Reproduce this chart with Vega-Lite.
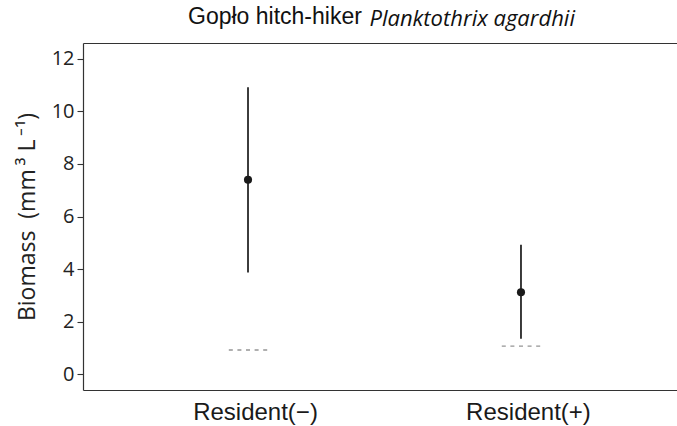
{
  "$schema": "https://vega.github.io/schema/vega-lite/v6.json",
  "autosize": {"type": "none"},
  "width": 594,
  "height": 347,
  "padding": {"left": 83, "top": 43, "right": 0, "bottom": 36},
  "background": "white",
  "config": {"view": {"stroke": null}, "font": "Liberation Sans"},
  "title": {
    "text": "Gopło hitch-hiker",
    "anchor": "start",
    "frame": "group",
    "dx": 105,
    "dy": 44,
    "font": "Liberation Sans",
    "fontSize": 23,
    "fontWeight": "normal",
    "color": "#111111",
    "baseline": "alphabetic"
  },
  "data": {
    "values": [
      {"group": "Resident(−)", "mean": 7.4, "lower": 3.87, "upper": 10.92, "reference": 0.92},
      {"group": "Resident(+)", "mean": 3.12, "lower": 1.35, "upper": 4.93, "reference": 1.07}
    ]
  },
  "layer": [
    {
      "mark": {"type": "tick", "filled": false, "stroke": "#666666", "strokeWidth": 1.4, "size": 43, "thickness": 0, "strokeDash": [4, 4.6], "strokeDashOffset": 6.3},
      "encoding": {
        "x": {"field": "group", "type": "nominal", "sort": null, "scale": {"type": "point", "padding": 0.588, "align": 0.514}, "axis": null},
        "y": {"field": "reference", "type": "quantitative", "scale": {"domain": [-0.6, 12.6], "nice": false, "zero": false}, "title": "Biomass\u00a0\u00a0(mm\u2009³\u00a0L\u2009⁻¹)"}
      }
    },
    {
      "mark": {"type": "rule", "color": "#1a1a1a", "strokeWidth": 1.7},
      "encoding": {
        "x": {"field": "group", "type": "nominal", "sort": null, "scale": {"type": "point", "padding": 0.588, "align": 0.514},
          "axis": {"orient": "bottom", "title": null, "ticks": false, "domain": true, "domainColor": "#333333", "domainWidth": 1.2, "labelFont": "Liberation Sans", "labelFontSize": 24, "labelColor": "#1a1a1a", "labelPadding": 10, "labelOffset": 7, "labelAngle": 0, "grid": false}},
        "y": {"field": "lower", "type": "quantitative", "scale": {"domain": [-0.6, 12.6], "nice": false, "zero": false}, "title": "Biomass\u00a0\u00a0(mm\u2009³\u00a0L\u2009⁻¹)",
          "axis": {"values": [0, 2, 4, 6, 8, 10, 12], "grid": false, "domainColor": "#333333", "domainWidth": 1.2, "tickColor": "#333333", "tickSize": 6, "tickWidth": 1.1, "labelFont": "Open Sans", "labelFontSize": 20, "labelColor": "#222222", "labelPadding": 3, "titleFont": "Open Sans", "titleFontSize": 23, "titleFontWeight": "normal", "titleColor": "#222222", "titlePadding": 12}},
        "y2": {"field": "upper"}
      }
    },
    {
      "mark": {"type": "point", "filled": true, "size": 66, "color": "#1a1a1a", "opacity": 1},
      "encoding": {
        "x": {"field": "group", "type": "nominal", "sort": null, "scale": {"type": "point", "padding": 0.588, "align": 0.514},
          "axis": {"orient": "top", "labels": false, "ticks": false, "domain": true, "domainColor": "#333333", "domainWidth": 1.2, "grid": false,
            "title": "Planktothrix agardhii", "titleFont": "Open Sans", "titleFontStyle": "italic", "titleFontWeight": "normal", "titleFontSize": 22, "titleColor": "#111111", "titleX": 286, "titleY": -18, "titleAlign": "left", "titleBaseline": "alphabetic", "titleAngle": 0}},
        "y": {"field": "mean", "type": "quantitative", "scale": {"domain": [-0.6, 12.6], "nice": false, "zero": false}, "title": "Biomass\u00a0\u00a0(mm\u2009³\u00a0L\u2009⁻¹)"}
      }
    }
  ],
  "resolve": {"axis": {"x": "independent"}}
}
